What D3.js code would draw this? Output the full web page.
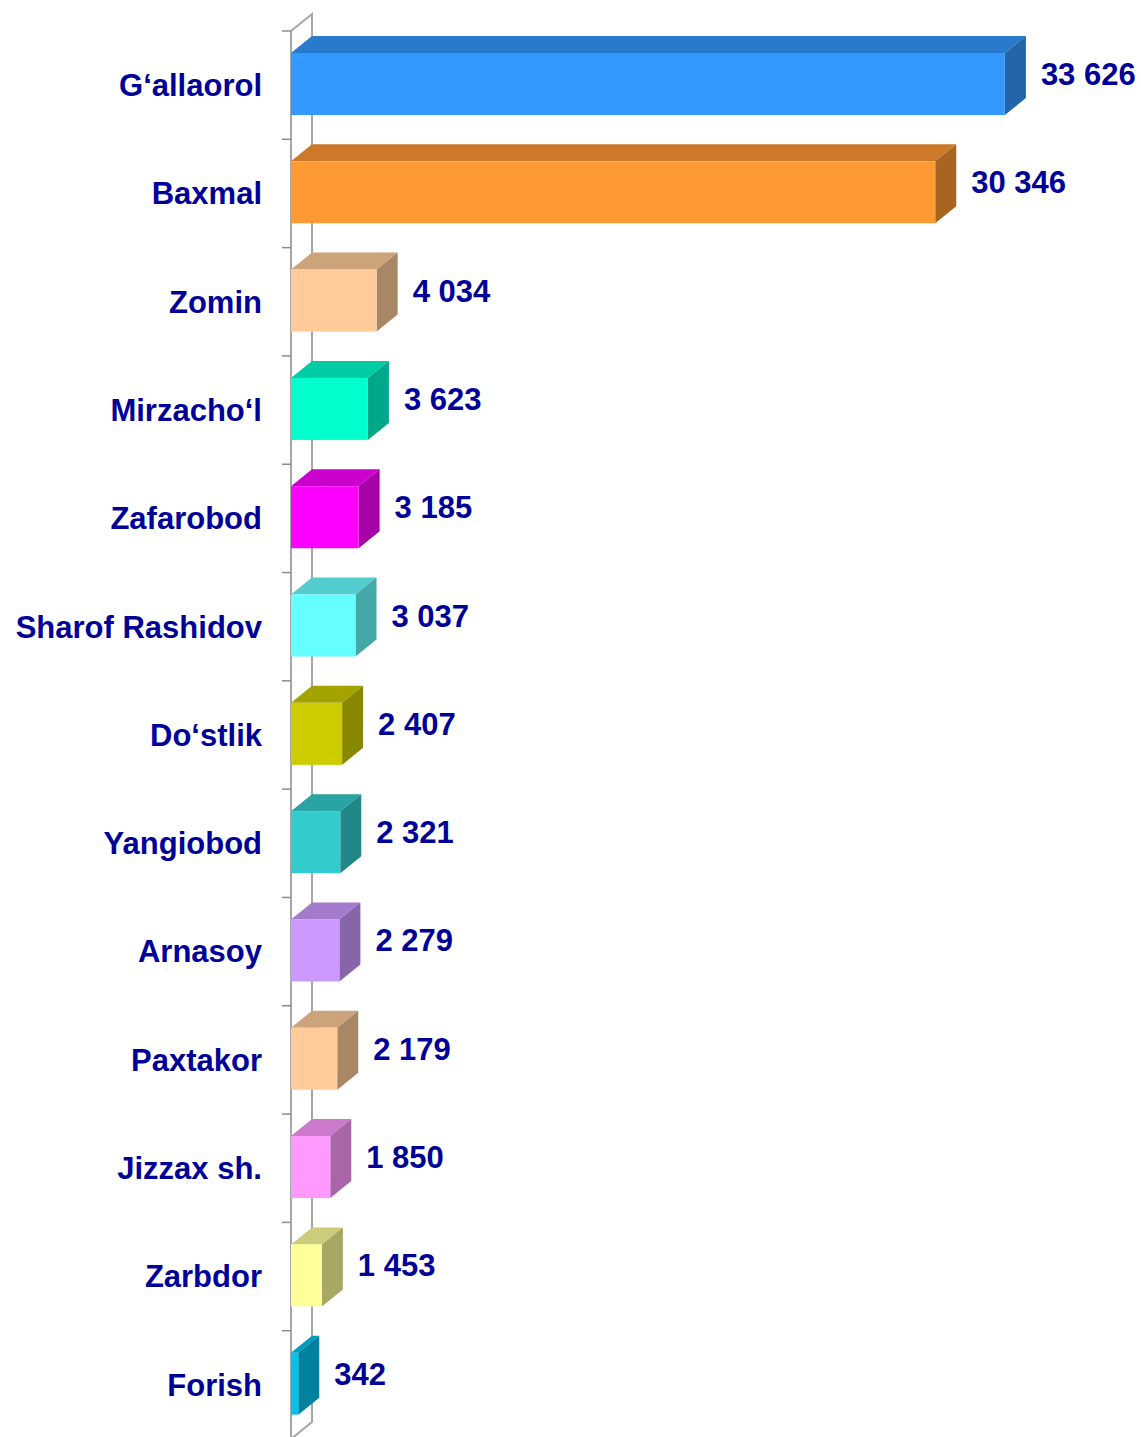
<!DOCTYPE html>
<html>
<head>
<meta charset="utf-8">
<script src="https://cdn.jsdelivr.net/npm/d3@7"></script>
<style>
  body { margin: 0; background: #fff; }
  text { font-family: "Liberation Sans", Arial, sans-serif; font-weight: bold; }
</style>
</head>
<body>
<script>
// data
let districts = ["G‘allaorol", "Baxmal", "Zomin", "Mirzacho‘l", "Zafarobod", "Sharof Rashidov",
    "Do‘stlik", "Yangiobod", "Arnasoy", "Paxtakor", "Jizzax sh.", "Zarbdor", "Forish"];
let values = [33626, 30346, 4034, 3623, 3185, 3037, 2407, 2321, 2279, 2179, 1850, 1453, 342];
let barColors = ["#3399ff", "#ff9933", "#ffcc99", "#00ffcc", "#ff00ff", "#66ffff",
    "#cccc00", "#33cccc", "#cc99ff", "#ffcc99", "#ff99ff", "#ffff99", "#00c4ee"];

function shade(c, k) {
    let r = d3.rgb(c);
    return d3.rgb(r.r * k, r.g * k, r.b * k).formatHex();
}

function fmt(v) {
    return d3.format(",")(v).replace(/,/g, " ");
}

function main() {
    let width = 1141, height = 1437;
    let dx = 21, dy = -17;          // depth of the 3d effect
    let barH = 62, barOff = 22;

    let svg = d3.select("body").append("svg")
        .attr("width", width)
        .attr("height", height);

    let xScale = d3.scaleLinear().domain([0, 35000]).range([291, 291 + 35000 * 0.02123]);
    let yScale = d3.scaleBand().domain(districts).range([31, 1439]);

    let x0 = xScale(0);
    let yTop = yScale.range()[0], yBot = yScale.range()[1];

    // axis wall
    let wall = svg.append("g")
        .attr("stroke", "#a6a6a6")
        .attr("stroke-width", 2)
        .attr("fill", "none");
    wall.append("path")
        .attr("d", "M" + x0 + "," + yBot + "L" + x0 + "," + yTop + "L" + (x0 + dx) + "," + (yTop + dy) +
            "L" + (x0 + dx) + "," + (yBot + dy) + "L" + x0 + "," + yBot);

    let ticks = districts.map(d => yScale(d)).concat([yBot]);
    wall.selectAll("line.tick")
        .data(ticks)
        .enter()
        .append("line")
        .attr("class", "tick")
        .attr("x1", x0 - 9)
        .attr("x2", x0)
        .attr("y1", d => d)
        .attr("y2", d => d)
        .attr("stroke", "#8c8c8c")
        .attr("stroke-width", 1.5);

    let rows = districts.map((d, i) => ({name: d, value: values[i], color: barColors[i]}));

    let bars = svg.selectAll("g.bar")
        .data(rows)
        .enter()
        .append("g")
        .attr("class", "bar");

    // top face
    bars.append("path")
        .attr("d", function(d) {
            let y = yScale(d.name) + barOff, x1 = xScale(d.value);
            return "M" + x0 + "," + y + "L" + (x0 + dx) + "," + (y + dy) + "L" + (x1 + dx) + "," + (y + dy) +
                "L" + x1 + "," + y + "Z";
        })
        .attr("fill", d => shade(d.color, 0.8));

    // side face
    bars.append("path")
        .attr("d", function(d) {
            let y = yScale(d.name) + barOff, x1 = xScale(d.value);
            return "M" + x1 + "," + y + "L" + (x1 + dx) + "," + (y + dy) + "L" + (x1 + dx) + "," + (y + dy + barH) +
                "L" + x1 + "," + (y + barH) + "Z";
        })
        .attr("fill", d => shade(d.color, 0.66));

    // front face
    bars.append("rect")
        .attr("x", x0)
        .attr("y", d => yScale(d.name) + barOff)
        .attr("width", d => xScale(d.value) - x0)
        .attr("height", barH)
        .attr("fill", d => d.color);

    // value labels
    bars.append("text")
        .attr("x", d => xScale(d.value) + dx + 15)
        .attr("y", d => yScale(d.name) + yScale.bandwidth() / 2 - 11)
        .attr("dy", "0.35em")
        .attr("fill", "#000099")
        .attr("font-size", 31)
        .text(d => fmt(d.value));

    // category labels
    svg.selectAll("text.cat")
        .data(districts)
        .enter()
        .append("text")
        .attr("class", "cat")
        .attr("x", 262)
        .attr("y", d => yScale(d) + yScale.bandwidth() / 2)
        .attr("dy", "0.35em")
        .attr("text-anchor", "end")
        .attr("fill", "#000099")
        .attr("font-size", 31)
        .text(d => d);
}

main();
</script>
</body>
</html>
